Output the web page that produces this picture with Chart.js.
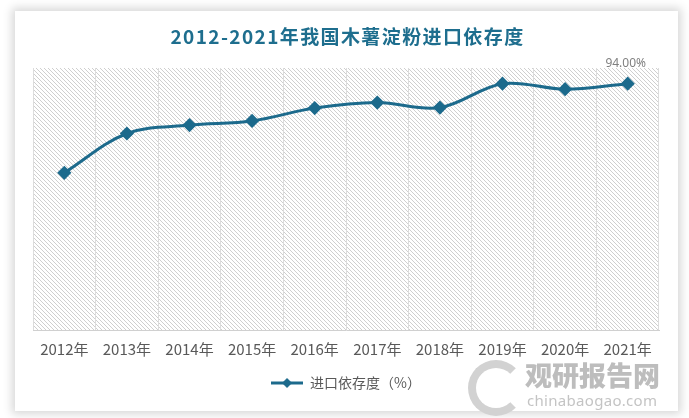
<!DOCTYPE html>
<html>
<head>
<meta charset="utf-8">
<script src="https://cdn.jsdelivr.net/npm/chart.js@4.4.0/dist/chart.umd.min.js"></script>
<style>
  html, body { margin: 0; padding: 0; background: #ffffff; width: 689px; height: 418px; overflow: hidden; }
  #card { position: absolute; left: 15px; top: 11px; width: 663px; height: 400px; background: #fff;
          box-shadow: 0 0 9px 3px rgba(0,0,0,0.16); }
  #chart { position: absolute; left: 0; top: 0; }
  .wm1 { position: absolute; left: 525px; top: 355px; font: 900 27px "Noto Sans CJK SC", sans-serif; color: #bdbdbd; letter-spacing: 0px; }
  .wm2 { position: absolute; left: 527px; top: 390px; font: 15px "Noto Sans", sans-serif; color: #c4c4c4; letter-spacing: 0.3px; }
  .ring { position: absolute; left: 468px; top: 360px; width: 40px; height: 40px; border-radius: 50%;
          border: 8px solid #d2d2d2; border-right-color: transparent; }
</style>
</head>
<body>
<div id="card"><canvas id="chart" width="663" height="400"></canvas></div>
<div class="ring"></div>
<div class="wm1">观研报告网</div>
<div class="wm2">chinabaogao.com</div>
<script>
const categories = ["2012年","2013年","2014年","2015年","2016年","2017年","2018年","2019年","2020年","2021年"];
const seriesName = "进口依存度（%）";
const dependence = [60.0, 75.0, 78.2, 79.8, 84.7, 86.8, 84.9, 94.0, 91.9, 94.0];
const labelIndex = 9;
const labelText = "94.00%";
const titleText = "2012-2021年我国木薯淀粉进口依存度";

const lineColor = "#1c6a8c";

function makePattern(ctx) {
  const t = document.createElement('canvas');
  t.width = 4; t.height = 4;
  const c = t.getContext('2d');
  c.fillStyle = '#ffffff'; c.fillRect(0,0,4,4);
  c.fillStyle = '#cfcfcf';
  for (let i = 0; i < 4; i++) c.fillRect(i, i, 1, 1);
  return ctx.createPattern(t, 'repeat');
}

function legendIcon() {
  const c = document.createElement('canvas');
  c.width = 32; c.height = 12;
  const g = c.getContext('2d');
  g.strokeStyle = lineColor; g.lineWidth = 3;
  g.beginPath(); g.moveTo(0, 6); g.lineTo(32, 6); g.stroke();
  g.fillStyle = lineColor;
  g.beginPath(); g.moveTo(16, 1); g.lineTo(21, 6); g.lineTo(16, 11); g.lineTo(11, 6); g.closePath(); g.fill();
  return c;
}

const hatchPlugin = {
  id: 'hatch',
  beforeDraw(chart) {
    const {ctx, chartArea: a} = chart;
    ctx.save();
    ctx.fillStyle = makePattern(ctx);
    ctx.fillRect(a.left, a.top, a.right - a.left, a.bottom - a.top);
    ctx.restore();
  }
};

const titlePlugin = {
  id: 'spacedTitle',
  afterDraw(chart) {
    const ctx = chart.ctx;
    ctx.save();
    ctx.font = 'bold 19px "Noto Sans CJK SC", sans-serif';
    ctx.letterSpacing = '1.4px';
    ctx.fillStyle = '#1e6e8e';
    ctx.textAlign = 'center';
    ctx.textBaseline = 'middle';
    ctx.fillText(titleText, chart.width / 2 + 1, 26);
    ctx.restore();
  }
};

const labelPlugin = {
  id: 'lastLabel',
  afterDatasetsDraw(chart) {
    const p = chart.getDatasetMeta(0).data[labelIndex];
    const ctx = chart.ctx;
    ctx.save();
    ctx.font = '12px "Noto Sans", sans-serif';
    ctx.fillStyle = '#7f7f7f';
    ctx.textAlign = 'center';
    ctx.textBaseline = 'middle';
    ctx.fillText(labelText, p.x - 2, p.y - 20);
    ctx.restore();
  }
};

new Chart(document.getElementById('chart'), {
  type: 'line',
  data: {
    labels: categories,
    datasets: [{
      label: seriesName,
      data: dependence,
      borderColor: lineColor,
      backgroundColor: lineColor,
      borderWidth: 3,
      tension: 0.35,
      pointStyle: 'rectRot',
      pointRadius: 5,
      pointHoverRadius: 5,
      pointBackgroundColor: lineColor,
      pointBorderColor: lineColor,
      fill: false
    }]
  },
  options: {
    responsive: false,
    animation: false,
    layout: { padding: { left: 18, right: 19, top: 57, bottom: 11 } },
    scales: {
      x: {
        offset: true,
        grid: { offset: true, display: true, color: '#dcdcdc', drawTicks: false, lineWidth: 1 },
        border: { display: true, color: '#d0d0d0', width: 1 },
        ticks: { color: '#595959', font: { size: 15, family: '"Noto Sans CJK SC", sans-serif' }, padding: 10, maxRotation: 0, autoSkip: false }
      },
      y: {
        display: false,
        min: 0,
        max: 100
      }
    },
    plugins: {
      title: { display: false },
      legend: {
        display: true,
        position: 'bottom',
        labels: {
          color: '#595959',
          font: { size: 14, family: '"Noto Sans CJK SC", sans-serif' },
          usePointStyle: true,
          pointStyleWidth: 32,
          padding: 8,
          generateLabels(chart) {
            return [{
              text: seriesName,
              fillStyle: lineColor,
              strokeStyle: lineColor,
              pointStyle: legendIcon(),
              fontColor: '#595959',
              lineWidth: 0,
              hidden: false,
              datasetIndex: 0
            }];
          }
        }
      },
      tooltip: { enabled: false }
    }
  },
  plugins: [hatchPlugin, labelPlugin, titlePlugin]
});
</script>
</body>
</html>
